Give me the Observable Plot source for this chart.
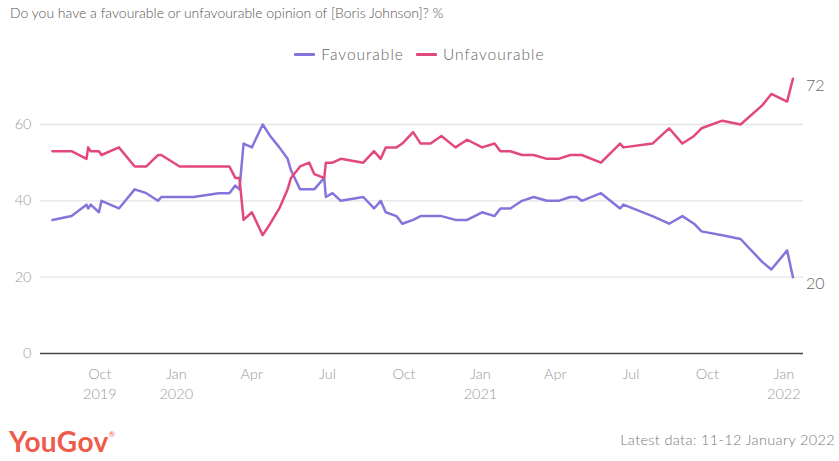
<!DOCTYPE html>
<html><head><meta charset="utf-8">
<script src="https://cdn.jsdelivr.net/npm/d3@7"></script>
<script src="https://cdn.jsdelivr.net/npm/@observablehq/plot@0.6"></script>
<style>
body{margin:0;background:#fff;font-family:Lato,"Open Sans",sans-serif;font-weight:300;}
#wrap{position:relative;width:839px;height:461px;overflow:hidden;}
#title{position:absolute;left:10px;top:4px;font-size:15.5px;color:#555;white-space:nowrap;}
#legend{position:absolute;left:0;top:45px;width:839px;display:flex;justify-content:center;align-items:center;font-size:15.5px;color:#666;letter-spacing:1px;}
#legend .item{display:flex;align-items:center;margin:0 6px;}
#legend .sw{width:21px;height:3px;border-radius:1px;margin-right:6px;}
#chart{position:absolute;left:0;top:70px;}
#logo{position:absolute;left:9px;top:424px;font-size:28px;font-weight:bold;color:#ef5a4a;letter-spacing:0.4px;}
#logo sup{font-size:8px;font-weight:normal;vertical-align:top;position:relative;top:5px;}
#note{position:absolute;right:4px;top:431px;font-size:14.5px;color:#777;letter-spacing:0.35px;}
</style></head>
<body>
<div id="wrap">
  <div id="title">Do you have a favourable or unfavourable opinion of [Boris Johnson]? %</div>
  <div id="legend"></div>
  <div id="chart"></div>
  <div id="logo">YouGov<sup>®</sup></div>
  <div id="note">Latest data: 11-12 January 2022</div>
</div>
<script>
const seriesNames = ["Favourable", "Unfavourable"];
const seriesColors = ["#8474dc", "#e2487d"];

const dates = [
  "2019-08-05","2019-08-28","2019-09-15","2019-09-17","2019-09-20","2019-09-30","2019-10-03","2019-10-24",
  "2019-11-12","2019-11-26","2019-12-10","2019-12-14","2020-01-05","2020-01-22","2020-02-21","2020-03-05",
  "2020-03-12","2020-03-17","2020-03-22","2020-04-01","2020-04-14","2020-04-23","2020-05-04","2020-05-14",
  "2020-05-18","2020-05-29","2020-06-09","2020-06-15","2020-06-27","2020-06-29","2020-07-07","2020-07-17",
  "2020-08-13","2020-08-26","2020-09-03","2020-09-09","2020-09-22","2020-09-29","2020-10-12","2020-10-21",
  "2020-11-02","2020-11-15","2020-12-02","2020-12-16","2021-01-03","2021-01-18","2021-01-25","2021-02-06",
  "2021-02-20","2021-03-06","2021-03-22","2021-04-05","2021-04-19","2021-04-27","2021-05-03","2021-05-26",
  "2021-06-18","2021-06-22","2021-07-27","2021-08-16","2021-09-01","2021-09-15","2021-09-24","2021-10-19",
  "2021-11-10","2021-12-06","2021-12-17","2022-01-05","2022-01-12"
];
const favourable = [
  35,36,39,38,39,37,40,38,
  43,42,40,41,41,41,42,42,
  44,43,55,54,60,57,54,51,
  48,43,43,43,46,41,42,40,
  41,38,40,37,36,34,35,36,
  36,36,35,35,37,36,38,38,
  40,41,40,40,41,41,40,42,
  38,39,36,34,36,34,32,31,
  30,24,22,27,20
];
const unfavourable = [
  53,53,51,54,53,53,52,54,
  49,49,52,52,49,49,49,49,
  46,46,35,37,31,34,38,43,
  46,49,50,47,46,50,50,51,
  50,53,51,54,54,55,58,55,
  55,57,54,56,54,55,53,53,
  52,52,51,51,52,52,52,50,
  55,54,55,59,55,57,59,61,
  60,65,68,66,72
];
const yTicks = [0, 20, 40, 60];
const xTickDates = ["2019-10-01","2020-01-01","2020-04-01","2020-07-01","2020-10-01","2021-01-01","2021-04-01","2021-07-01","2021-10-01","2022-01-01"];
const xTickLabels = ["Oct\n2019","Jan\n2020","Apr","Jul","Oct","Jan\n2021","Apr","Jul","Oct","Jan\n2022"];

// fit title width to the reference width by scaling its font size
const title = document.getElementById("title");
const tw = title.getBoundingClientRect().width;
title.style.fontSize = (15.5 * 434 / tw) + "px";

// legend
const leg = document.getElementById("legend");
seriesNames.forEach((n, i) => {
  const it = document.createElement("div"); it.className = "item";
  const sw = document.createElement("div"); sw.className = "sw"; sw.style.background = seriesColors[i];
  const t = document.createElement("span"); t.textContent = n;
  it.appendChild(sw); it.appendChild(t); leg.appendChild(it);
});

const rows = [];
const values = [favourable, unfavourable];
seriesNames.forEach((s, k) => dates.forEach((d, i) => rows.push({series: s, date: new Date(d), value: values[k][i]})));
const endRows = seriesNames.map((s, k) => ({series: s, date: new Date(dates[dates.length - 1]), value: values[k][values[k].length - 1]}));

const tickDates = xTickDates.map(d => new Date(d));
const labelMap = new Map(tickDates.map((d, i) => [+d, xTickLabels[i]]));
const pxPerUnit = 3.817;

const chart = Plot.plot({
  width: 839, height: 330,
  marginLeft: 40, marginRight: 36, marginTop: 0, marginBottom: 47,
  x: {type: "utc", domain: [tickDates[0], tickDates[tickDates.length - 1]], range: [99.3, 783.3]},
  y: {domain: [0, 74], range: [283, 283 - 74 * pxPerUnit]},
  color: {domain: seriesNames, range: seriesColors},
  style: {fontFamily: "Lato, 'Open Sans', sans-serif", fontWeight: 300, fontSize: "14.5px", color: "#888", overflow: "visible", background: "transparent"},
  marks: [
    Plot.ruleY(yTicks.filter(d => d > 0), {stroke: "#e4e4e4", strokeWidth: 1.3}),
    Plot.ruleY([0], {stroke: "#444", strokeWidth: 1.5}),
    Plot.axisY(yTicks, {tickSize: 0, tickPadding: 9, label: null, fill: "#999"}),
    Plot.axisX(tickDates, {tickSize: 0, tickPadding: 12, label: null, fill: "#999", lineHeight: 1.35, tickFormat: d => labelMap.get(+d)}),
    Plot.line(rows, {x: "date", y: "value", z: "series", stroke: "series", strokeWidth: 2.5, strokeLinejoin: "round"}),
    Plot.text(endRows, {x: "date", y: "value", text: d => String(d.value), dx: 13, dy: 7, textAnchor: "start", fontSize: 16, fill: "#666"})
  ]
});
document.getElementById("chart").appendChild(chart);
</script>
</body></html>
